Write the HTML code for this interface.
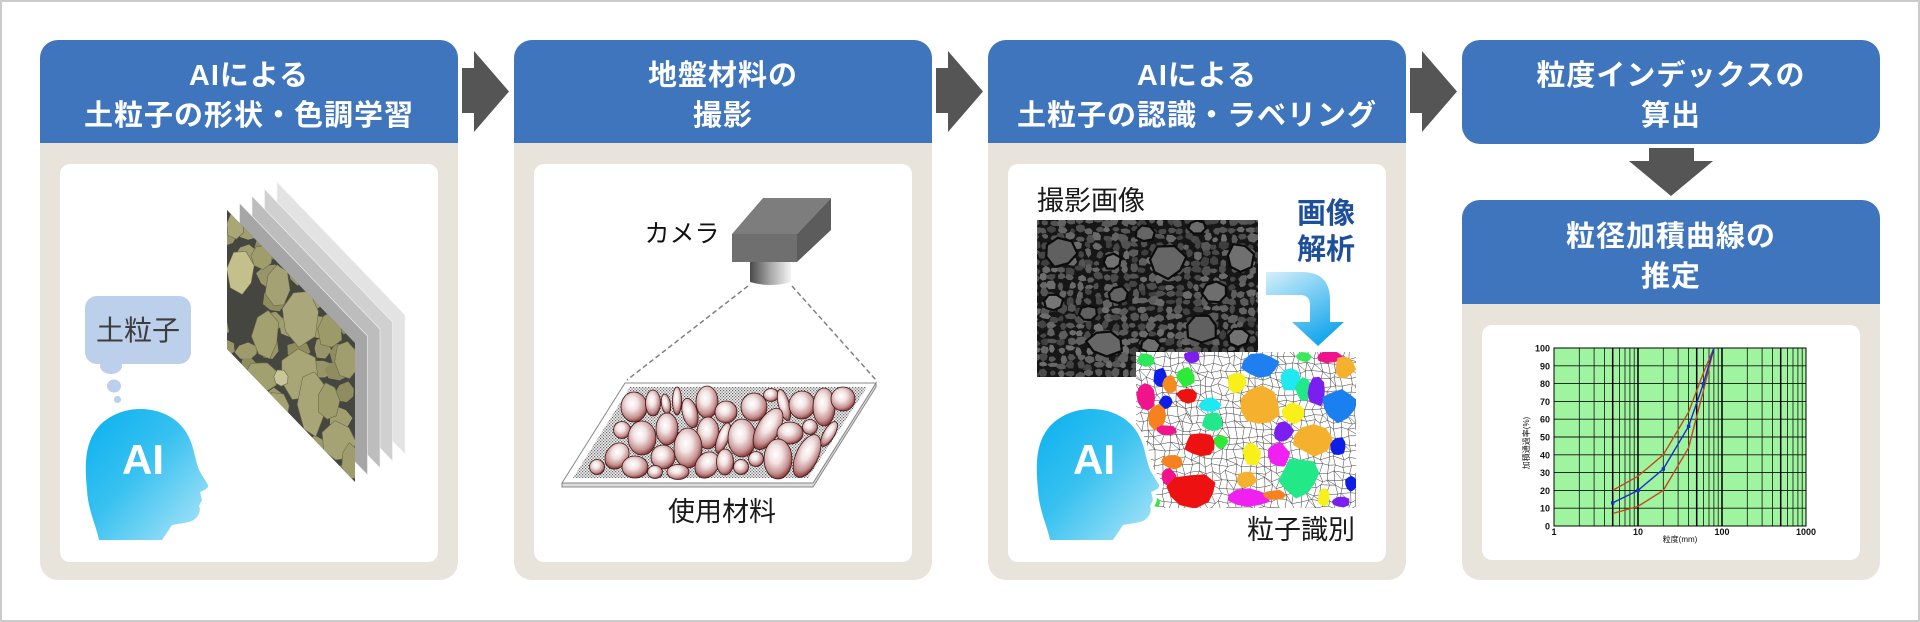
<!DOCTYPE html>
<html><head><meta charset="utf-8"><style>
html,body{margin:0;padding:0;background:#fff;width:1920px;height:622px;overflow:hidden}
svg{display:block}
text{font-family:"Liberation Sans","Noto Sans CJK JP",sans-serif}
.h{fill:#fff;font-size:29px;font-weight:700;letter-spacing:1px;text-anchor:middle}
.t{fill:#1a1a1a;font-size:27px;text-anchor:middle}
.ai{fill:#fff;font-size:42px;font-weight:700;text-anchor:middle}
.yl{font-size:9px;font-weight:700;text-anchor:end;fill:#111}
.xl{font-size:9px;font-weight:700;text-anchor:middle;fill:#111}
</style></head><body>
<svg id="s" width="1920" height="622" viewBox="0 0 1920 622" xmlns="http://www.w3.org/2000/svg">
<defs>
 <linearGradient id="hg" x1="0" y1="0" x2="1" y2="1"><stop offset="0" stop-color="#08b0f0"/><stop offset=".45" stop-color="#38c1f0"/><stop offset="1" stop-color="#b2e7f8"/></linearGradient>
 <radialGradient id="eg" cx=".42" cy=".38" r=".65"><stop offset="0" stop-color="#fff"/><stop offset=".35" stop-color="#f3e4e4"/><stop offset=".75" stop-color="#c69090"/><stop offset="1" stop-color="#7b2b2b"/></radialGradient>
 <linearGradient id="lens" x1="0" y1="0" x2="1" y2="0"><stop offset="0" stop-color="#4a4a4a"/><stop offset=".5" stop-color="#a8a8a8"/><stop offset="1" stop-color="#f4f4f4"/></linearGradient>
 <linearGradient id="ag" x1="0" y1="0" x2=".6" y2="1"><stop offset="0" stop-color="#d4f0fb"/><stop offset="1" stop-color="#16a6ec"/></linearGradient>
 <pattern id="dots" width="3" height="3" patternUnits="userSpaceOnUse"><rect width="3" height="3" fill="#eee"/><rect x="0" y="0" width="1.2" height="1.2" fill="#666"/><rect x="1.5" y="1.5" width="1.2" height="1.2" fill="#666"/></pattern>
 <clipPath id="c1"><polygon points="227,210 355,343 355,482 227,349"/></clipPath>
 <clipPath id="c3"><rect x="1037" y="220" width="221" height="157"/></clipPath>
 <clipPath id="c4"><rect x="1136" y="352" width="220" height="156"/></clipPath>
 <path id="head" d="M13,131 C10,116 2,101 1,81 C-2,51 0,31 14,16 C26,4 42,0 54,0 C79,0 99,13 106,36 C109,46 110,53 113,61 L122,76 C123,79 119,81 114,83 L116,91 L113,97 C115,101 113,106 110,109 C106,114 96,114 86,116 L76,131 Z"/>
</defs>

<rect x="1" y="1" width="1918" height="620" fill="#fff" stroke="#cbcbcb" stroke-width="2"/>

<!-- Panel 1 -->
<rect x="40" y="40" width="418" height="540" rx="18" fill="#e8e4dc"/>
<path d="M40,143 V58 A18,18 0 0 1 58,40 H440 A18,18 0 0 1 458,58 V143 Z" fill="#3e75bd"/>
<rect x="60" y="164" width="378" height="398" rx="10" fill="#fff"/>
<text class="h" x="249" y="85">AIによる</text>
<text class="h" x="249" y="125">土粒子の形状・色調学習</text>

<!-- bubble -->
<rect x="85" y="296" width="106" height="68" rx="12" fill="#bccfeb"/>
<ellipse cx="111" cy="366" rx="11" ry="8" fill="#bccfeb"/>
<ellipse cx="114" cy="386" rx="7" ry="6.5" fill="#bccfeb"/>
<circle cx="117.5" cy="399.5" r="3.6" fill="#bccfeb"/>
<text x="138" y="340" style="font-size:28px;fill:#3d3d3d;text-anchor:middle">土粒子</text>
<use href="#head" transform="translate(86,409)" fill="url(#hg)"/>
<text class="ai" x="143" y="474">AI</text>

<!-- layers -->
<polygon points="277,182 405,315 405,454 277,321" fill="#e3e3e3" stroke="#f6f6f6" stroke-width=".6"/>
<polygon points="264.5,189 392.5,322 392.5,461 264.5,328" fill="#d0d0d0" stroke="#f6f6f6" stroke-width=".6"/>
<polygon points="252,196 380,329 380,468 252,335" fill="#bdbdbd" stroke="#f6f6f6" stroke-width=".6"/>
<polygon points="239.5,203 367.5,336 367.5,475 239.5,342" fill="#a6a6a6" stroke="#f6f6f6" stroke-width=".6"/>
<g clip-path="url(#c1)" id="p1s"><rect x="220" y="200" width="140" height="290" fill="#44463f"/></g>

<!-- Arrows -->
<polygon points="462,68 474,68 474,51 509,91.5 474,132 474,113 462,113" fill="#555"/>
<polygon points="936,68 948,68 948,51 983,91.5 948,132 948,113 936,113" fill="#555"/>
<polygon points="1410,68 1422,68 1422,51 1457,91.5 1422,132 1422,113 1410,113" fill="#555"/>

<!-- Panel 2 -->
<rect x="514" y="40" width="418" height="540" rx="18" fill="#e8e4dc"/>
<path d="M514,143 V58 A18,18 0 0 1 532,40 H914 A18,18 0 0 1 932,58 V143 Z" fill="#3e75bd"/>
<rect x="534" y="164" width="378" height="398" rx="10" fill="#fff"/>
<text class="h" x="723" y="85">地盤材料の</text>
<text class="h" x="723" y="125">撮影</text>

<text x="682" y="242" style="font-size:25px;fill:#111;text-anchor:middle">カメラ</text>
<polygon points="732,234 797,234 831,198 763,198" fill="#7d7d7d"/>
<rect x="732" y="234" width="65" height="28" fill="#6f6f6f"/>
<polygon points="797,234 831,198 831,230 797,262" fill="#5c5c5c"/>
<path d="M750,262 L791,262 L791,282 Q770,288 750,282 Z" fill="url(#lens)"/>
<line x1="748" y1="286" x2="627" y2="380" stroke="#808080" stroke-width="1.5" stroke-dasharray="5,3"/>
<line x1="792" y1="286" x2="876" y2="380" stroke="#808080" stroke-width="1.5" stroke-dasharray="5,3"/>
<polygon points="562,483 813,483 876,383 876,387 813,487 562,487" fill="#ddd" stroke="#888" stroke-width="1"/>
<polygon points="625,383 876,383 813,483 562,483" fill="#fff" stroke="#888" stroke-width="1"/>
<polygon points="630,387 867,387 808,478 573,478" fill="url(#dots)"/>
<g fill="url(#eg)" stroke="#3c1515" stroke-width=".8">
<ellipse cx="634" cy="407" rx="13" ry="15"/>
<ellipse cx="653" cy="403" rx="7.5" ry="13"/>
<ellipse cx="666" cy="404" rx="4.5" ry="10" transform="rotate(-10 666 404)"/>
<ellipse cx="677" cy="401" rx="4.5" ry="14"/>
<ellipse cx="690" cy="413" rx="7.5" ry="15" transform="rotate(-15 690 413)"/>
<ellipse cx="707" cy="402" rx="11" ry="16"/>
<ellipse cx="726" cy="412" rx="11" ry="11"/>
<ellipse cx="754" cy="407" rx="13" ry="14"/>
<ellipse cx="771" cy="395" rx="7.5" ry="6.5"/>
<ellipse cx="784" cy="405" rx="5.5" ry="16" transform="rotate(-15 784 405)"/>
<ellipse cx="802" cy="405" rx="13" ry="14"/>
<ellipse cx="824" cy="407" rx="11" ry="19"/>
<ellipse cx="843" cy="399" rx="12" ry="12"/>
<ellipse cx="622" cy="430" rx="8.5" ry="8.5"/>
<ellipse cx="642" cy="438" rx="14" ry="17"/>
<ellipse cx="667" cy="429" rx="11" ry="16"/>
<ellipse cx="708" cy="433" rx="11" ry="16"/>
<ellipse cx="723" cy="438" rx="5.5" ry="16" transform="rotate(20 723 438)"/>
<ellipse cx="742" cy="438" rx="14" ry="19"/>
<ellipse cx="768" cy="429" rx="11" ry="23" transform="rotate(30 768 429)"/>
<ellipse cx="790" cy="433" rx="13" ry="11"/>
<ellipse cx="810" cy="427" rx="7.5" ry="7.5"/>
<ellipse cx="829" cy="434" rx="5.5" ry="14" transform="rotate(30 829 434)"/>
<ellipse cx="617" cy="456" rx="11" ry="14" transform="rotate(35 617 456)"/>
<ellipse cx="635" cy="467" rx="13" ry="11"/>
<ellipse cx="663" cy="457" rx="12" ry="12"/>
<ellipse cx="688" cy="448" rx="14" ry="20"/>
<ellipse cx="707" cy="465" rx="11" ry="14" transform="rotate(35 707 465)"/>
<ellipse cx="725" cy="462" rx="8.5" ry="13"/>
<ellipse cx="741" cy="467" rx="7.5" ry="7.5"/>
<ellipse cx="756" cy="459" rx="7.5" ry="7.5"/>
<ellipse cx="778" cy="459" rx="14" ry="20"/>
<ellipse cx="807" cy="456" rx="11" ry="23" transform="rotate(25 807 456)"/>
<ellipse cx="597" cy="467" rx="7.5" ry="7.5"/>
<ellipse cx="655" cy="472" rx="7.5" ry="6.5"/>
<ellipse cx="678" cy="472" rx="11" ry="7.5"/>
</g>
<text class="t" x="722" y="521">使用材料</text>

<!-- Panel 3 -->
<rect x="988" y="40" width="418" height="540" rx="18" fill="#e8e4dc"/>
<path d="M988,143 V58 A18,18 0 0 1 1006,40 H1388 A18,18 0 0 1 1406,58 V143 Z" fill="#3e75bd"/>
<rect x="1008" y="164" width="378" height="398" rx="10" fill="#fff"/>
<text class="h" x="1197" y="85">AIによる</text>
<text class="h" x="1197" y="125">土粒子の認識・ラベリング</text>

<text class="t" x="1091" y="210">撮影画像</text>
<g clip-path="url(#c3)" id="p3s"><rect x="1037" y="220" width="221" height="157" fill="#3a3a3a"/></g>
<text x="1326" y="223" style="font-size:29px;font-weight:700;fill:#1d4f9b;text-anchor:middle">画像</text>
<text x="1326" y="259" style="font-size:29px;font-weight:700;fill:#1d4f9b;text-anchor:middle">解析</text>
<path d="M1266,272 L1302,272 Q1330,272 1330,300 L1330,322 L1344,322 L1318,346 L1292,322 L1310,322 L1310,305 Q1310,295 1300,295 L1266,295 Z" fill="url(#ag)"/>
<g clip-path="url(#c4)" id="p3n"><rect x="1136" y="352" width="220" height="156" fill="#fff"/></g>
<use href="#head" transform="translate(1037,409)" fill="none" stroke="#fff" stroke-width="8" stroke-linejoin="round"/>
<use href="#head" transform="translate(1037,409)" fill="url(#hg)"/>
<text class="ai" x="1094" y="474">AI</text>
<text class="t" x="1301" y="539">粒子識別</text>

<!-- Panel 4 -->
<rect x="1462" y="40" width="418" height="104" rx="18" fill="#3e75bd"/>
<text class="h" x="1671" y="85">粒度インデックスの</text>
<text class="h" x="1671" y="125">算出</text>
<polygon points="1649,148 1694,148 1694,161 1713,161 1671,196 1629,161 1649,161" fill="#555"/>
<rect x="1462" y="200" width="418" height="380" rx="18" fill="#e8e4dc"/>
<path d="M1462,304 V218 A18,18 0 0 1 1480,200 H1862 A18,18 0 0 1 1880,218 V304 Z" fill="#3e75bd"/>
<rect x="1482" y="325" width="378" height="235" rx="10" fill="#fff"/>
<text class="h" x="1671" y="246">粒径加積曲線の</text>
<text class="h" x="1671" y="286">推定</text>

<!-- chart -->
<rect x="1554" y="348" width="252" height="178" fill="#9ff59f"/>
<path d="M1554,526H1806M1554,508.2H1806M1554,490.4H1806M1554,472.6H1806M1554,454.8H1806M1554,437H1806M1554,419.2H1806M1554,401.4H1806M1554,383.6H1806M1554,365.8H1806M1554,348H1806" stroke="#111" stroke-width=".9" fill="none"/>
<path d="M1579.3,348V526M1594.1,348V526M1604.6,348V526M1619.4,348V526M1625,348V526M1629.9,348V526M1634.2,348V526M1663.3,348V526M1678.1,348V526M1688.6,348V526M1703.4,348V526M1709,348V526M1713.9,348V526M1718.2,348V526M1747.3,348V526M1762.1,348V526M1772.6,348V526M1787.4,348V526M1793,348V526M1797.9,348V526M1802.2,348V526" stroke="#111" stroke-width=".8" fill="none"/>
<path d="M1612.7,348V526M1696.7,348V526M1780.7,348V526M1638,348V526M1722,348V526" stroke="#000" stroke-width="1.5" fill="none"/>
<rect x="1554" y="348" width="252" height="178" fill="none" stroke="#000" stroke-width="1"/>
<polyline points="1612.7,490.4 1638,476.2 1663.3,454.8 1678.1,429.9 1688.6,412.1 1703.4,372.9 1713.9,348" fill="none" stroke="#c5471f" stroke-width="1.4"/>
<polyline points="1612.7,513.5 1638,506.4 1663.3,490.4 1678.1,465.5 1688.6,447.7 1703.4,390.7 1713.9,348" fill="none" stroke="#c5471f" stroke-width="1.4"/>
<polyline points="1612.7,502.9 1638,490.4 1663.3,469 1688.6,426.3 1703.4,383.6 1713.9,348" fill="none" stroke="#1a2ecc" stroke-width="1.4"/>
<g fill="#1a2ecc"><rect x="1611" y="501.2" width="3.4" height="3.4"/><rect x="1636.3" y="488.7" width="3.4" height="3.4"/><rect x="1661.6" y="467.3" width="3.4" height="3.4"/><rect x="1686.9" y="424.6" width="3.4" height="3.4"/><rect x="1701.7" y="381.9" width="3.4" height="3.4"/></g>
<g>
<text class="yl" x="1550" y="529.5">0</text><text class="yl" x="1550" y="511.7">10</text><text class="yl" x="1550" y="493.9">20</text><text class="yl" x="1550" y="476.1">30</text><text class="yl" x="1550" y="458.3">40</text><text class="yl" x="1550" y="440.5">50</text><text class="yl" x="1550" y="422.7">60</text><text class="yl" x="1550" y="404.9">70</text><text class="yl" x="1550" y="387.1">80</text><text class="yl" x="1550" y="369.3">90</text><text class="yl" x="1550" y="351.5">100</text>
<text class="xl" x="1554" y="535">1</text><text class="xl" x="1638" y="535">10</text><text class="xl" x="1722" y="535">100</text><text class="xl" x="1806" y="535">1000</text>
<text x="1680" y="542" style="font-size:8px;text-anchor:middle;fill:#111">粒度(mm)</text>
<text transform="translate(1529,443) rotate(-90)" x="0" y="0" style="font-size:8px;text-anchor:middle;fill:#111">加積通過率(%)</text>
</g>
</svg>
<script>
(function(){
const NS='http://www.w3.org/2000/svg';
function R(s){return function(){s|=0;s=s+0x6D2B79F5|0;let t=Math.imul(s^s>>>15,1|s);t=t+Math.imul(t^t>>>7,61|t)^t;return((t^t>>>14)>>>0)/4294967296;}}
function add(p,tag,a){const e=document.createElementNS(NS,tag);for(const k in a)e.setAttribute(k,a[k]);p.appendChild(e);return e;}
function blob(r,cx,cy,rx,ry,n,j){const a0=r()*6.283;let s=[];for(let i=0;i<n;i++){const a=a0+i*6.283/n,k=1-j/2+r()*j;s.push((cx+Math.cos(a)*rx*k).toFixed(1)+','+(cy+Math.sin(a)*ry*k).toFixed(1));}return s.join(' ');}
// P1 stones
let r=R(7),g=document.getElementById('p1s');
const pal=['#9d9b6b','#8f8d60','#a19f6f','#979569'];
for(let y=205;y<495;y+=24){for(let x=222;x<368;x+=24){if(r()<.25)continue;const cx=x+(r()-.5)*10,cy=y+(r()-.5)*10;
add(g,'polygon',{points:blob(r,cx,cy,9+r()*4,9+r()*4,7,.35),fill:pal[(r()*pal.length)|0]});}}
const S=[[235,225,9,13,'#a9a778'],[262,257,11,12,'#9f9d6c'],[278,287,12,21,'#a4a274'],[300,316,19,28,'#aaa87a'],[266,335,13,24,'#a3a170'],[330,330,13,19,'#9c9a68'],[346,360,12,20,'#a09e6e'],[300,375,20,24,'#a8a676'],[261,377,19,16,'#a1a06f'],[312,403,14,34,'#a8a677'],[329,402,11,19,'#9e9c6b'],[277,408,13,15,'#a4a272'],[339,442,17,20,'#a5a374'],[350,462,9,18,'#9f9d6d'],[290,440,13,17,'#a2a071'],[320,470,13,13,'#9c9a69'],[241,272,14,22,'#c3c08e'],[281,378,8,9,'#c9c69a']];
for(const s of S)add(g,'polygon',{points:blob(r,s[0],s[1],s[2],s[3],7,.25),fill:s[4],stroke:'#6a6848','stroke-width':'.6','stroke-linejoin':'round'});
// P3 photo
r=R(11);g=document.getElementById('p3s');
g.firstElementChild.setAttribute('fill','#161616');
for(let y=222;y<382;y+=8){for(let x=1035;x<1262;x+=9){const v=62+(r()*50|0);add(g,'polygon',{points:blob(r,x+(r()-.5)*4,y+(r()-.5)*4,3+r()*2.8,2.5+r()*2.6,6,.45),fill:'rgb('+v+','+v+','+v+')'});}}
const big=[[1060,252,16,14],[1167,262,18,16],[1240,258,14,15],[1112,262,9,8],[1118,295,10,9],[1215,292,13,11],[1053,302,10,9],[1202,328,16,14],[1105,343,18,13],[1150,345,10,8],[1088,313,9,8],[1238,337,11,10],[1145,233,10,8],[1197,227,9,7]];
for(const b of big){const v=95+(r()*30|0);add(g,'polygon',{points:blob(r,b[0],b[1],b[2],b[3],7,.25),fill:'rgb('+v+','+v+','+v+')',stroke:'#0c0c0c','stroke-width':'2.2'});}
// segmentation
r=R(5);g=document.getElementById('p3n');
const sp=7.2,nc=32,nr=23;let P=[];
for(let j=0;j<nr;j++){P[j]=[];for(let i=0;i<nc;i++)P[j][i]=[1134+i*sp+(r()-.5)*5,350+j*sp+(r()-.5)*5];}
const f=p=>p[0].toFixed(1)+','+p[1].toFixed(1);
let d='';
for(let j=0;j<nr;j++){d+='M'+P[j].map(f).join('L');}
for(let i=0;i<nc;i++){d+='M';for(let j=0;j<nr;j++){d+=(j?'L':'')+f(P[j][i]);}}
for(let j=0;j<nr-1;j++)for(let i=0;i<nc-1;i++){if(r()<.2){d+='M'+f(P[j][i])+'L'+f(P[j+1][i+1]);}}
add(g,'path',{d:d,fill:'none',stroke:'#3a3a3a','stroke-width':'.5'});
const B=[[1146,360,9,7,'#2ee85a'],[1192,357,8,6,'#7b1ff0'],[1260,365,18,13,'#1f7ff0'],[1304,357,8,5,'#3be85a'],[1330,357,13,6,'#f0148c'],[1345,367,10,12,'#f5b12e'],[1160,377,7,9,'#0f1ee6'],[1170,384,7,9,'#f58a1e'],[1186,377,9,10,'#2ee83a'],[1146,396,10,14,'#f0148c'],[1187,396,10,7,'#ee1111'],[1166,402,7,7,'#0f1ee6'],[1237,382,10,11,'#f8f018'],[1291,380,11,12,'#1ee8f0'],[1304,389,8,11,'#22e88a'],[1317,392,9,14,'#7b1ff0'],[1260,407,20,19,'#f5b12e'],[1293,413,11,11,'#f8f018'],[1340,405,17,17,'#1a80f0'],[1210,405,10,7,'#1ee8f0'],[1212,422,10,10,'#22e88a'],[1157,417,10,12,'#f5821e'],[1167,430,10,5,'#f0148c'],[1201,445,16,12,'#ee1111'],[1221,442,7,7,'#2ee83a'],[1283,432,10,10,'#7b1ff0'],[1314,440,21,15,'#f5b12e'],[1338,446,8,9,'#0f1ee6'],[1252,455,9,12,'#f8f018'],[1279,455,11,12,'#f020f0'],[1172,462,10,7,'#f5821e'],[1169,477,7,9,'#f0148c'],[1192,490,25,17,'#ee1111'],[1247,480,10,8,'#f5b12e'],[1299,477,19,19,'#22e888'],[1248,498,21,10,'#f020f0'],[1274,495,11,5,'#f5821e'],[1351,483,6,8,'#0f1ee6'],[1324,497,6,10,'#f8f018'],[1341,502,9,5,'#7b1ff0'],[1155,502,5,5,'#2ee83a']];
for(const b of B)add(g,'polygon',{points:blob(r,b[0],b[1],b[2],b[3],10,.3),fill:b[4]});
})();
</script>
</body></html>
